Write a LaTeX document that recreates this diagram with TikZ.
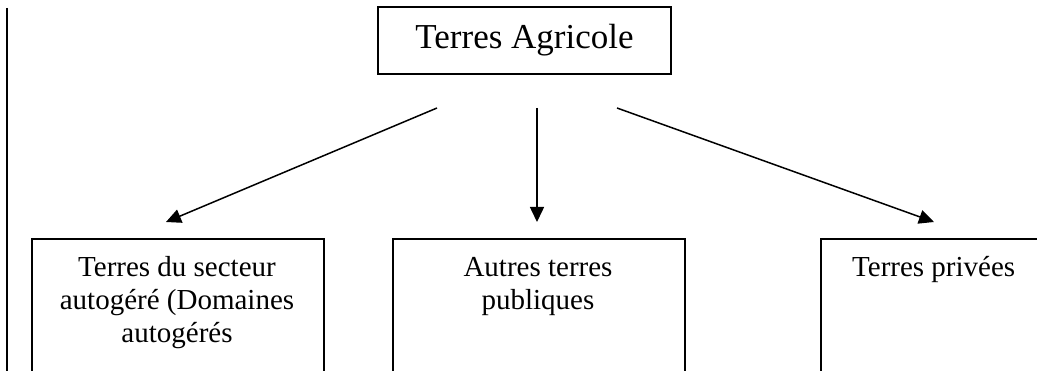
\documentclass[tikz,border=0pt]{standalone}
\usepackage{fontspec}
\setmainfont{Liberation Serif}
\usetikzlibrary{arrows.meta}
\begin{document}
\begin{tikzpicture}[x=1pt,y=-1pt,
  boxline/.style={draw=black,line width=1.8pt,inner sep=0pt},
  bigbox/.style={boxline,anchor=north west,minimum height=200pt},
  conn/.style={line width=1.5pt,-{Triangle[length=15pt,width=14pt]}},
  smalltext/.style={inner sep=0pt,font=\fontsize{29}{33}\selectfont},
]
\useasboundingbox (0,0) rectangle (1037,371);
\clip (0,0) rectangle (1037,371);
% left margin rule
\coordinate (rtop) at (7.3,8);
\coordinate (rbot) at (7.3,380);
\draw[line width=1.8pt] (rtop) -- (rbot);
% top box
\node[boxline,minimum width=293pt,minimum height=67pt,font=\fontsize{35}{40}\selectfont] (top) at (524.5,40.5) {Terres Agricole};
% lower boxes
\node[bigbox,minimum width=292pt] (b1) at (31,238) {};
\node[bigbox,minimum width=292pt] (b2) at (392,238) {};
\node[bigbox,minimum width=260pt] (b3) at (820,238) {};
% texts
\node[smalltext,anchor=base] (t1) at (177,277) {\begin{tabular}[t]{@{}c@{}}Terres du secteur\\ autogéré (Domaines\\ autogérés\end{tabular}};
\node[smalltext,anchor=base] (t2) at (538,277) {\begin{tabular}[t]{@{}c@{}}Autres terres\\ publiques\end{tabular}};
\node[smalltext,anchor=base west] (t3) at (852,277) {Terres privées};
% arrows
\coordinate (s1) at (437,108);
\coordinate (e1) at (166,222);
\coordinate (s2) at (537,108);
\coordinate (e2) at (537,222);
\coordinate (s3) at (617,108);
\coordinate (e3) at (934,222);
\draw[conn] (s1) -- (e1);
\draw[conn] (s2) -- (e2);
\draw[conn] (s3) -- (e3);
\end{tikzpicture}
\end{document}
